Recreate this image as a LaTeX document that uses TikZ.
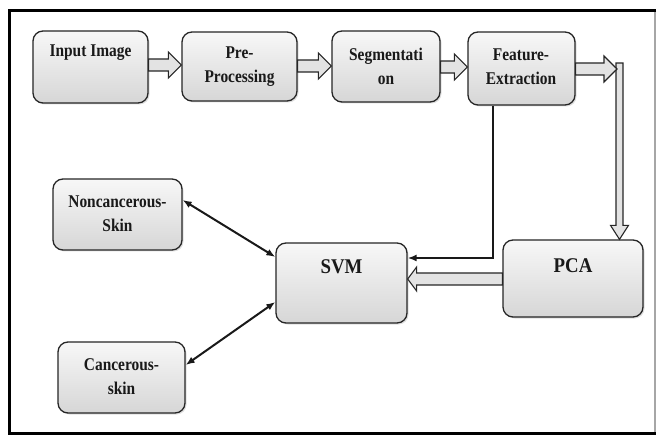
\documentclass[tikz,border=0pt]{standalone}
\usepackage{fontspec}
\newfontfamily\bxf{Liberation Serif}[FakeStretch=0.86]
\newfontfamily\bxg{Liberation Serif}[FakeStretch=0.9]
\usetikzlibrary{calc,shadows,arrows.meta}
\tikzset{
  box/.style={draw=gray!30!black, line width=1.3bp, rounded corners=10bp,
    top color=gray!6, bottom color=gray!32, inner sep=0pt,
    drop shadow={shadow xshift=1.5bp, shadow yshift=-1.5bp, opacity=0.25}},
  lbl/.style={font=\bxf\bfseries\fontsize{18}{24}\selectfont, align=center, inner sep=0pt, text=black!90},
  biglbl/.style={font=\bxg\bfseries\fontsize{21}{26}\selectfont, align=center, inner sep=0pt, text=black!90},
  barrow/.style={draw=gray!30!black, fill=gray!22, line width=1.1bp, line join=miter},
  thin/.style={draw=black!90, line width=2bp},
  tip/.style={},
}
\newcommand\blockarrow[5]{%
  \coordinate (bah) at ($(#5)!#3!(#4)$);
  \filldraw[barrow] ($(#4)!#1!90:(#5)$) -- ($(bah)!#1!-90:(#4)$) -- ($(bah)!#2!-90:(#4)$)
    -- (#5) -- ($(bah)!#2!90:(#4)$) -- ($(bah)!#1!90:(#4)$) -- ($(#4)!#1!-90:(#5)$) -- cycle;}
\begin{document}
\begin{tikzpicture}[x=1bp,y=-1bp]
\useasboundingbox (0,0) rectangle (658,436);
\fill[white] (0,0) rectangle (658,436);
% frame
\draw[gray!70, line width=1.2bp] (655,11) -- (655,433);
\draw[black, line width=3.5bp] (656,10.5) -- (9.5,10.5) -- (9.5,433.5) -- (656,433.5);

% boxes
\node[box, minimum width=115bp, minimum height=72bp] (inp) at (90.5,67) {};
\node[box, minimum width=115bp, minimum height=69bp] (pre) at (239.5,66.5) {};
\node[box, minimum width=108bp, minimum height=71bp] (seg) at (386,66.5) {};
\node[box, minimum width=107bp, minimum height=73bp] (fe) at (521.5,68.5) {};
\node[box, minimum width=140bp, minimum height=77bp] (pca) at (573,278.5) {};
\node[box, minimum width=131bp, minimum height=80bp] (svm) at (341.5,283) {};
\node[box, minimum width=129bp, minimum height=71bp] (non) at (117.5,214.5) {};
\node[box, minimum width=127bp, minimum height=71bp] (can) at (121.5,377.5) {};

% texts
\node[lbl] (tinp) at (90.5,53) {Input Image};
\node[lbl] (tpre) at (239.5,67) {Pre-\\Processing};
\node[lbl] (tseg) at (386,66) {Segmentati\\on};
\node[lbl] (tfe) at (521,67) {Feature-\\Extraction};
\node[biglbl] (tsvm) at (341.5,267) {SVM};
\node[biglbl] (tpca) at (573,266) {PCA};
\node[lbl] (tnon) at (117.5,214) {Noncancerous-\\Skin};
\node[lbl] (tcan) at (121.5,377) {Cancerous-\\skin};

% block arrows
\coordinate (a1) at (inp.east |- 0,65);
\coordinate (b1) at (pre.west |- 0,65);
\blockarrow{6bp}{13bp}{13bp}{a1}{b1}
\coordinate (a2) at (pre.east |- 0,66);
\coordinate (b2) at (seg.west |- 0,66);
\blockarrow{6bp}{13bp}{13bp}{a2}{b2}
\coordinate (a3) at (seg.east |- 0,67);
\coordinate (b3) at (fe.west |- 0,67);
\blockarrow{6bp}{13bp}{13bp}{a3}{b3}
\coordinate (a5) at (619.5,63);
\coordinate (b5) at (pca.north -| a5);
\blockarrow{3.5bp}{9bp}{14bp}{a5}{b5}
\coordinate (a4) at (fe.east |- 0,69);
\coordinate (b4) at (617,69);
\blockarrow{6bp}{13bp}{13bp}{a4}{b4}
\coordinate (a6) at (pca.west |- 0,279);
\coordinate (b6) at (svm.east |- 0,279);
\blockarrow{6bp}{12bp}{9bp}{a6}{b6}

% thin connectors
\coordinate (f1) at (fe.south -| 493,0);
\coordinate (s1) at (svm.east |- 0,258);
\draw[thin, -{Latex[length=9bp,width=7bp]}] (f1) |- (s1);
\coordinate (s2) at (svm.west |- 0,257);
\coordinate (n2) at (non.east |- 0,200);
\draw[thin, {Latex[length=9bp,width=7bp]}-{Latex[length=9bp,width=7bp]}] (s2) -- (n2);
\coordinate (s3) at (svm.west |- 0,302);
\coordinate (c3) at (can.east |- 0,365);
\draw[thin, {Latex[length=9bp,width=7bp]}-{Latex[length=9bp,width=7bp]}] (s3) -- (c3);
\end{tikzpicture}
\end{document}
